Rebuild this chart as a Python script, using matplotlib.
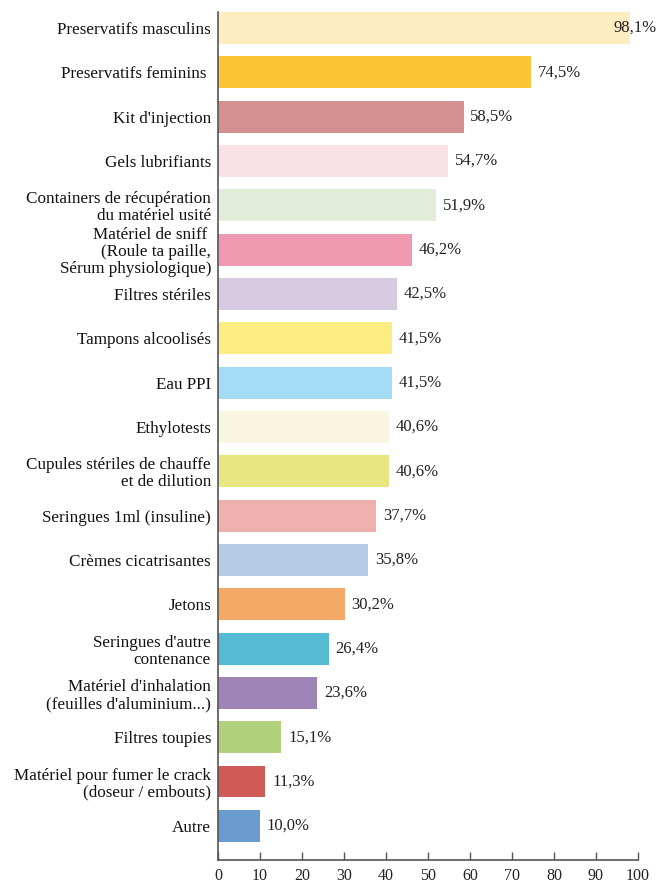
import matplotlib.pyplot as plt

categories = [
    "Preservatifs masculins",
    "Preservatifs feminins ",
    "Kit d'injection",
    "Gels lubrifiants",
    "Containers de récupération\ndu matériel usité",
    "Matériel de sniff \n(Roule ta paille,\nSérum physiologique)",
    "Filtres stériles",
    "Tampons alcoolisés",
    "Eau PPI",
    "Ethylotests",
    "Cupules stériles de chauffe\net de dilution",
    "Seringues 1ml (insuline)",
    "Crèmes cicatrisantes",
    "Jetons",
    "Seringues d'autre\ncontenance",
    "Matériel d'inhalation\n(feuilles d'aluminium...)",
    "Filtres toupies",
    "Matériel pour fumer le crack\n(doseur / embouts)",
    "Autre",
]
values = [98.1, 74.5, 58.5, 54.7, 51.9, 46.2, 42.5, 41.5, 41.5, 40.6,
          40.6, 37.7, 35.8, 30.2, 26.4, 23.6, 15.1, 11.3, 10.0]
colors = ["#FDEDC0", "#FDC535", "#D48F8F", "#FAE1E8", "#E1EDD9", "#F09AB2",
          "#D6C9E2", "#FCED80", "#A4DBF5", "#F8F6E0", "#E8E680", "#EFB0AE",
          "#B6CCE6", "#F5A966", "#55BAD4", "#9E83B7", "#B2D17C", "#D05A55",
          "#6B9CCF"]
xticks = list(range(0, 101, 10))

plt.rcParams["font.family"] = ["Liberation Serif", "DejaVu Serif"]

fig = plt.figure(figsize=(6.64, 8.85), dpi=100)
ax = fig.add_axes([218 / 664, 1 - 860 / 885, 420 / 664, 848 / 885])

pos = list(range(len(categories)))
ax.barh(pos, values, height=0.72, color=colors)

for y, v in zip(pos, values):
    label = f"{v:.1f}".replace(".", ",") + "%"
    ax.text(min(v + 1.6, 94.2), y, label, va="center", ha="left",
            fontsize=12, color="#222222")

ax.set_yticks(pos)
ax.set_yticklabels(categories, fontsize=12.3, color="#111111", linespacing=1.1)
ax.set_ylim(len(categories) - 1 + 0.77, -0.36)
ax.set_xlim(0, 100)
ax.set_xticks(xticks)
ax.set_xticklabels([str(t) for t in xticks], fontsize=11.5, color="#222222")

ax.tick_params(axis="y", length=0, pad=5)
ax.tick_params(axis="x", direction="in", length=6, width=1, color="#555555", pad=6)
for side in ["top", "right"]:
    ax.spines[side].set_visible(False)
for side in ["left", "bottom"]:
    ax.spines[side].set_color("#555555")
    ax.spines[side].set_linewidth(1.2)

plt.savefig("out.png", dpi=100)
plt.close()
